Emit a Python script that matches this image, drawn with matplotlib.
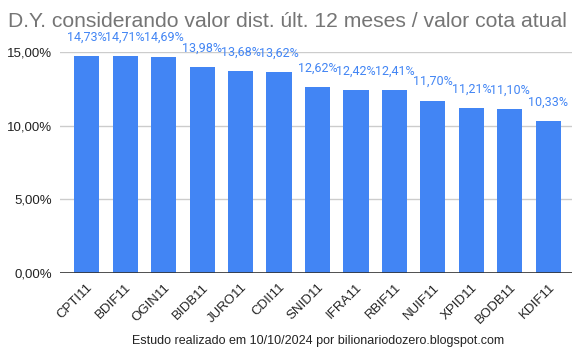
import matplotlib
matplotlib.use("Agg")
import matplotlib.pyplot as plt
from matplotlib.ticker import FuncFormatter

tickers = ["CPTI11", "BDIF11", "OGIN11", "BIDB11", "JURO11", "CDII11", "SNID11",
           "IFRA11", "RBIF11", "NUIF11", "XPID11", "BODB11", "KDIF11"]
dy_values = [14.73, 14.71, 14.69, 13.98, 13.68, 13.62, 12.62,
             12.42, 12.41, 11.70, 11.21, 11.10, 10.33]
y_ticks = [0, 5, 10, 15]

BLUE = "#4285f4"


def pct(v):
    return f"{v:.2f}%".replace(".", ",")


plt.rcParams['font.family'] = ['Liberation Sans', 'DejaVu Sans']

fig = plt.figure(figsize=(5.84, 3.55), dpi=100)
ax = fig.add_axes([0.1027, 0.231, 0.876, 0.6225])

x = range(len(tickers))
ax.bar(x, dy_values, width=0.65, color=BLUE, zorder=3)

for i, v in zip(x, dy_values):
    ax.text(i, v + 0.85, pct(v), ha="center", va="bottom", color=BLUE,
            fontsize=9, family=["Roboto", "DejaVu Sans"], clip_on=False)

ax.set_xlim(-0.69, 12.6)
ax.set_ylim(0, 15)
ax.set_yticks(y_ticks)
ax.yaxis.set_major_formatter(FuncFormatter(lambda v, p: pct(v)))
ax.grid(axis="y", color="#cccccc", linewidth=1, zorder=0)
ax.axhline(0, color="#333333", linewidth=1.2, zorder=4)

ax.set_xticks(list(x))
ax.set_xticklabels(tickers, rotation=45, ha="right", rotation_mode="anchor",
                   fontsize=9.5, color="#222222")
ax.tick_params(axis="y", labelsize=9.5, labelcolor="#222222", length=0, pad=6)
ax.tick_params(axis="x", length=0, pad=6)
for s in ax.spines.values():
    s.set_visible(False)

fig.text(0.014, 0.925, "D.Y. considerando valor dist. últ. 12 meses / valor cota atual",
         fontsize=15.2, color="#757575", ha="left", va="baseline")
fig.text(0.545, 0.03, "Estudo realizado em 10/10/2024 por bilionariodozero.blogspot.com",
         fontsize=9, color="#222222", ha="center", va="baseline")

fig.savefig("out.png", dpi=100)
